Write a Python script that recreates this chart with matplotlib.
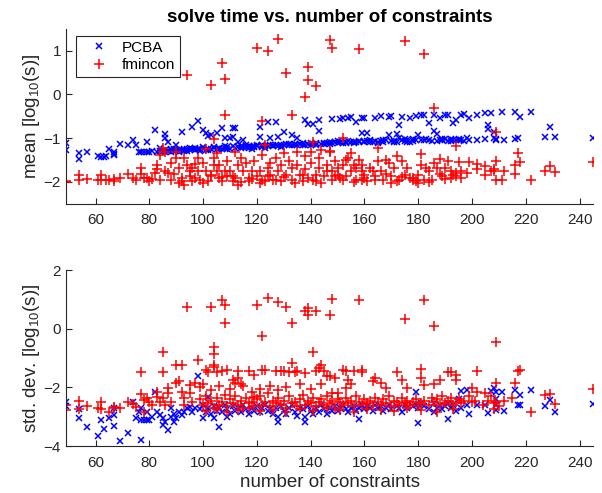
import matplotlib
matplotlib.use("Agg")
import matplotlib.pyplot as plt

plt.rcParams["font.family"] = ["Liberation Sans", "DejaVu Sans"]
plt.rcParams["mathtext.fontset"] = "custom"
plt.rcParams["mathtext.rm"] = "Liberation Sans"
plt.rcParams["mathtext.it"] = "Liberation Sans:italic"

# mean solve time, PCBA
pcba_mean_x = [
    49, 49, 54, 54, 57, 61, 62, 63, 64, 65, 67, 67, 67,
    69, 72, 74, 75, 76, 77, 78, 79, 79, 80, 81, 82, 83, 84, 84,
    85, 86, 86, 86, 87, 87, 88, 88, 89, 89, 90, 90, 91, 92, 92, 93, 94, 95, 96, 96, 97, 98, 98, 99, 100,
    100, 101, 101, 102, 102, 103, 103, 104, 105, 105, 106, 107, 107, 108, 108, 109, 110, 110, 111, 111, 112, 112, 113, 113, 114, 115, 115,
    116, 117, 117, 118, 119, 119, 120, 121, 121, 122, 122, 123, 124, 124, 125, 125, 126, 127, 127, 128, 128, 129, 130, 130,
    131, 132, 133, 133, 134, 135, 135, 136, 137, 138, 138, 139, 139, 140, 141, 141, 142, 143, 143, 144, 145, 146, 147, 148, 148,
    149, 150, 151, 151, 152, 153, 153, 154, 155, 155, 156, 157, 157, 158, 159, 159, 160, 160, 161, 161, 162, 163, 164, 165, 165,
    166, 166, 167, 168, 169, 169, 170, 171, 172, 172, 173, 173, 174, 174, 175, 176, 177, 177, 178, 179, 179, 180, 181, 182, 182,
    183, 184, 185, 186, 186, 187, 188, 188, 189, 190, 190, 191, 192, 192, 193, 194, 194, 195, 196, 196, 197, 198, 199, 199,
    202, 202, 205, 205, 206, 206, 207, 208, 208, 209, 209, 211, 212, 216, 216, 217, 218, 222, 227, 229, 231, 245,
    86, 88, 90, 91, 93, 94, 95, 97, 99, 100, 102, 104, 106, 108, 109, 111, 114, 116, 118, 120, 123, 126, 129, 132, 134, 137, 140, 142, 145, 147,
    150, 152, 154, 156, 158, 160, 162, 164, 167, 170, 171, 175, 176, 178, 181, 184, 187, 189, 191, 193, 195, 197,
]
pcba_mean_y = [
    -1.12, -1.28, -1.34, -1.47, -1.33, -1.40, -1.43, -1.44, -1.42, -1.25, -1.32, -1.37, -1.38,
    -1.14, -1.16, -1.04, -1.16, -1.33, -1.32, -1.33, -1.31, -1.09, -1.32, -1.30, -0.81, -1.31, -1.22, -1.29,
    -1.30, -0.91, -1.00, -1.28, -1.08, -1.30, -1.27, -1.31, -1.29, -1.26, -1.16, -1.30, -1.28, -0.87, -1.27, -1.29, -1.26, -1.28, -0.75, -1.25, -1.27, -0.62, -1.26, -1.24, -0.81,
    -1.25, -0.89, -1.27, -0.95, -1.24, -0.93, -1.26, -1.23, -0.89, -1.25, -1.22, -0.76, -1.24, -1.00, -1.23, -1.21, -1.00, -1.24, -0.76, -0.97, -0.76, -1.22, -1.08, -1.21, -1.23, -1.05, -1.20,
    -1.21, -1.19, -1.22, -1.20, -1.18, -1.21, -1.19, -0.74, -0.97, -1.17, -1.20, -1.18, -0.64, -1.19, -1.00, -1.17, -1.18, -0.64, -1.16, -0.97, -1.18, -1.15, -0.85, -1.17,
    -1.14, -1.16, -0.93, -1.15, -1.13, -1.00, -1.15, -1.14, -1.12, -0.59, -1.15, -0.68, -1.13, -1.12, -0.67, -1.14, -1.12, -0.58, -0.84, -1.13, -1.11, -1.12, -1.10, -0.57, -1.12,
    -1.10, -1.11, -0.57, -1.09, -0.55, -1.12, -1.08, -0.53, -0.52, -1.10, -1.09, -0.64, -1.08, -1.10, -0.53, -0.89, -0.53, -1.07, -0.89, -1.06, -1.08, -1.10, -0.55, -1.08, -1.11,
    -0.49, -1.07, -1.09, -1.05, -0.51, -0.93, -0.49, -1.06, -0.91, -1.08, -0.70, -1.00, -0.52, -1.05, -1.07, -1.04, -0.53, -1.08, -1.06, -0.49, -1.04, -0.93, -0.47, -0.47, -1.05,
    -1.03, -0.65, -1.06, -0.84, -0.47, -0.91, -0.55, -1.04, -1.05, -0.46, -1.03, -0.46, -1.06, -1.02, -0.66, -0.59, -1.04, -1.05, -0.47, -1.04, -0.44, -1.00, -0.55, -1.04,
    -0.47, -1.04, -0.43, -1.02, -0.70, -0.80, -0.43, -0.87, -1.00, -1.01, -1.04, -0.41, -1.04, -0.41, -1.02, -1.00, -0.51, -0.40, -0.97, -0.75, -0.97, -1.00,
    -1.33, -1.24, -1.27, -1.32, -1.24, -1.30, -1.23, -1.22, -1.29, -1.21, -1.28, -1.20, -1.26, -1.19, -1.25, -1.18, -1.19, -1.17, -1.24, -1.16, -1.22, -1.15, -1.20, -1.13, -1.17, -1.16, -1.15, -1.15, -1.14, -1.13,
    -1.07, -1.12, -1.07, -1.11, -1.06, -1.10, -1.05, -1.07, -1.04, -1.07, -1.09, -1.03, -1.08, -1.02, -1.05, -1.04, -1.07, -1.02, -1.06, -1.05, -1.02, -1.06,
]

# mean solve time, fmincon
fmincon_mean_x = [
    49, 49, 54, 54, 57, 61, 62, 62, 64, 65, 67, 67, 69, 72, 74, 75, 77, 77, 78, 79, 80, 81, 82, 83, 84, 84,
    83, 85, 86, 86, 87, 88, 89, 90, 90, 91, 92, 92, 93, 93, 94, 94, 95, 96, 96, 97, 97,
    98, 101, 103, 104, 107, 108, 108, 120, 122, 123, 124, 128, 131, 133, 138, 139, 139, 141, 142, 147, 148, 152, 158, 175, 182, 186, 194, 209,
    98, 99, 100, 101, 102, 103, 104, 104, 105, 105, 106, 106, 107, 108, 109, 109, 110, 111, 112, 112, 113, 113, 114, 115, 116, 117, 117, 118, 119, 120, 121, 122,
    122, 123, 124, 125, 125, 127, 127, 128, 129, 129, 130, 131, 132, 133, 133, 135, 135, 136, 137, 138, 138, 139, 140, 140, 142, 142, 143, 143, 144, 145, 146, 146, 147,
    147, 148, 148, 149, 150, 150, 151, 152, 153, 153, 154, 155, 155, 156, 157, 157, 158, 159, 159, 159, 160, 161, 162, 163, 164, 165, 165, 166, 167, 168, 168, 169,
    170, 171, 172, 172, 173, 174, 175, 176, 177, 178, 179, 180, 180, 181, 181, 182, 183, 184, 185, 186, 187, 188, 188, 189, 190, 191, 192, 192, 193, 194, 195, 196,
    196, 198, 199, 202, 202, 205, 205, 207, 208, 208, 209, 209, 211, 212, 216, 216, 217, 218, 222, 227, 229, 231, 245,
    88, 91, 95, 100, 103, 107, 111, 114, 118, 121, 124, 126, 130, 134, 137, 141, 144, 149, 152, 156, 160, 164, 170, 174, 178, 184, 190, 194,
]
fmincon_mean_y = [
    -1.99, -2.01, -1.85, -1.97, -1.94, -1.95, -1.85, -1.97, -1.97, -1.95, -1.94, -1.99, -1.91, -1.82, -1.91, -1.95, -1.69, -1.82, -1.91, -1.91, -1.99, -1.93, -1.80, -1.72, -1.38, -1.95,
    -1.61, -1.23, -1.31, -1.76, -1.80, -1.57, -1.82, -1.31, -1.46, -1.69, -1.91, -1.99, -2.07, -1.46, 0.44, -1.61, -1.76, -1.99, -1.69, -1.91, -1.60,
    -1.46, -1.25, 0.22, -1.03, 0.72, 0.36, -0.46, 1.06, -0.61, -1.15, 0.99, 1.28, 0.50, -0.46, -0.05, 0.64, 0.34, -1.08, 0.19, 1.24, 1.06, -1.00, 1.03, 1.22, 0.92, -0.32, -1.19, -0.86,
    -1.76, -1.95, -1.57, -1.76, -1.99, -1.88, -1.46, -1.61, -1.34, -1.76, -1.91, -1.61, -1.99, -1.76, -1.53, -1.88, -1.76, -1.99, -1.31, -1.91, -2.07, -1.61, -1.46, -1.76, -1.57, -1.91, -1.99, -1.76, -1.53, -1.88, -1.76, -1.38,
    -1.95, -1.99, -1.69, -1.57, -1.84, -1.46, -1.95, -1.76, -1.61, -1.99, -1.34, -1.84, -1.53, -1.69, -1.95, -1.31, -1.61, -1.84, -1.99, -1.42, -1.72, -1.91, -1.31, -1.57, -1.84, -1.99, -1.46, -1.69, -1.27, -1.88, -1.61, -1.76, -1.31,
    -1.29, -1.76, -1.95, -1.53, -1.69, -1.84, -1.91, -1.61, -1.50, -1.88, -1.46, -1.34, -1.76, -1.61, -1.69, -1.95, -1.50, -1.61, -1.76, -1.95, -1.84, -1.99, -1.69, -1.76, -1.88, -1.23, -1.53, -1.76, -1.95, -1.50, -1.82, -1.57,
    -1.88, -1.69, -1.42, -1.99, -1.95, -1.53, -1.84, -1.69, -1.91, -1.91, -1.99, -1.84, -2.03, -1.37, -1.61, -1.95, -1.69, -1.76, -1.95, -1.57, -1.69, -1.48, -1.82, -1.88, -1.69, -1.53, -1.76, -1.91, -1.84, -1.80, -1.55, -1.76,
    -1.91, -1.80, -1.55, -1.60, -1.70, -1.63, -1.85, -1.76, -1.76, -1.72, -1.53, -1.97, -1.95, -1.76, -1.61, -1.82, -1.34, -1.55, -1.97, -1.76, -1.65, -1.78, -1.55,
    -1.95, -2.02, -1.86, -2.03, -1.84, -1.90, -1.86, -2.00, -1.93, -2.03, -1.87, -1.97, -1.90, -2.02, -1.84, -1.95, -2.03, -1.88, -1.97, -2.01, -1.92, -1.96, -2.02, -1.90, -1.95, -2.00, -1.93, -1.88,
]

# std. dev. of solve time, PCBA
pcba_std_x = [
    49, 49, 54, 54, 57, 61, 62, 63, 65, 67, 67, 67, 69, 72, 74, 75, 76, 77, 77, 77, 78, 79, 79, 80, 81, 82, 83, 84,
    85, 85, 86, 87, 88, 88, 89, 89, 90, 91, 92, 93, 94, 95, 96, 97, 98,
    99, 100, 100, 101, 102, 102, 103, 104, 104, 105, 106, 106, 107, 108, 109, 109, 110, 111, 112, 113, 114, 115, 116, 117, 118, 119, 120,
    121, 122, 123, 124, 125, 126, 127, 128, 128, 129, 130, 131, 132, 133, 134, 135, 136, 137, 138, 138, 139, 140, 141, 142, 143, 144, 145, 146, 147, 148,
    149, 150, 151, 152, 153, 154, 155, 156, 157, 158, 158, 159, 160, 161, 162, 163, 164, 165, 166, 167, 168, 169, 170, 172, 173, 174, 175, 176, 178,
    179, 179, 180, 180, 181, 182, 184, 186, 186, 187, 188, 189, 190, 191, 191, 192, 193, 194, 195, 196, 196, 198, 198, 199,
    202, 205, 206, 207, 208, 209, 209, 209, 209, 211, 212, 216, 217, 218, 218, 222, 227, 229, 231, 245,
]
pcba_std_y = [
    -2.49, -2.63, -2.74, -3.06, -3.35, -3.65, -3.12, -3.42, -3.06, -3.31, -2.94, -2.72, -3.84, -3.57, -2.49, -3.06, -2.83, -3.80, -2.72, -3.12, -3.12, -3.12, -2.83, -3.12, -3.00, -2.15, -2.83, -2.94,
    -3.29, -3.06, -3.17, -3.46, -2.72, -3.00, -3.17, -2.90, -3.06, -2.83, -2.95, -2.85, -2.72, -2.66, -2.83, -2.70, -1.63,
    -2.75, -3.06, -2.60, -2.85, -2.32, -2.70, -2.90, -3.06, -2.65, -2.80, -3.34, -2.70, -2.85, -2.60, -3.00, -2.75, -2.90, -2.65, -2.80, -2.70, -2.85, -2.60, -2.75, -2.90, -2.70, -2.80, -2.65,
    -2.85, -2.70, -2.60, -2.80, -2.75, -2.90, -2.70, -3.00, -3.17, -2.65, -2.80, -2.92, -2.70, -2.60, -2.85, -2.97, -2.70, -2.75, -3.00, -3.17, -2.65, -2.80, -2.92, -2.70, -2.85, -2.60, -2.75, -2.90, -2.70, -2.80,
    -2.65, -2.81, -2.70, -2.60, -2.75, -2.85, -2.70, -2.65, -2.80, -3.08, -2.70, -2.60, -2.75, -2.65, -2.70, -2.81, -2.60, -2.72, -2.65, -2.80, -2.70, -2.60, -2.75, -2.65, -2.70, -2.83, -2.60, -2.72, -2.65,
    -2.15, -2.60, -3.20, -2.70, -2.55, -2.65, -2.75, -2.83, -2.55, -2.70, -2.60, -2.75, -2.65, -3.08, -2.55, -2.70, -2.60, -2.80, -2.40, -2.12, -2.70, -2.09, -2.60, -2.92,
    -2.60, -2.60, -2.89, -2.12, -2.03, -2.17, -2.40, -2.60, -2.77, -2.17, -2.81, -2.09, -2.60, -2.60, -2.26, -2.09, -2.63, -2.43, -2.83, -2.58,
]

# std. dev. of solve time, fmincon
fmincon_std_x = [
    49, 49, 54, 54, 57, 61, 62, 62, 65, 67, 67, 69, 72, 74, 75, 77, 77, 78, 78, 79, 80, 81, 83, 83, 84,
    85, 85, 85, 86, 87, 87, 88, 90, 90, 91, 92, 92, 93, 93, 94, 95, 95, 96, 97, 98,
    103, 104, 104, 104, 107, 108, 108, 120, 122, 124, 128, 131, 133, 133, 138, 139, 139, 141, 142, 147, 148, 158, 175, 182, 186, 209,
    101, 102, 104, 105, 107, 109, 113, 117, 119, 122, 123, 127, 129, 130, 132, 134, 135, 138, 142, 143, 144, 145, 146, 152, 153, 156, 159, 159, 172, 181, 191, 192, 202, 217, 218,
    99, 100, 103, 106, 110, 111, 112, 113, 114, 115, 118, 119, 121, 125, 128, 131, 136, 140, 144, 147, 148, 149, 150, 153, 154, 155,
    163, 164, 166, 168, 174, 176, 181, 182, 186, 188, 194, 194, 200, 202, 209, 216, 245,
    99, 100, 101, 102, 103, 104, 105, 106, 107, 108, 109, 110, 111, 112, 113, 114, 115, 116, 117, 118, 119, 120, 121, 122, 123, 124, 125, 126, 127, 128, 129, 130,
    131, 132, 133, 134, 135, 136, 137, 138, 139, 140, 141, 142, 143, 144, 145, 146, 147, 148, 149, 150, 151, 152, 153, 154, 155, 156, 157, 158, 159, 160, 161, 162, 163, 164, 165,
    166, 167, 168, 169, 170, 171, 172, 173, 174, 175, 176, 177, 178, 179, 180, 181, 182, 184, 185, 186, 187, 188, 189, 190, 191, 192, 193, 194, 195, 196, 197, 199, 200,
    101, 105, 109, 113, 117, 121, 126, 131, 136, 141, 146, 151, 156, 161, 166, 171, 176, 181, 187, 193,
    201, 204, 205, 206, 207, 208, 208, 209, 210, 212, 215, 222, 227, 229, 231,
]
fmincon_std_y = [
    -2.77, -2.60, -2.47, -2.74, -2.63, -2.69, -2.51, -2.74, -2.83, -2.69, -2.66, -2.72, -2.49, -2.58, -2.66, -1.46, -2.24, -2.43, -2.83, -2.35, -2.51, -2.60, -2.17, -2.32, -2.49,
    -0.78, -1.48, -2.37, -2.60, -2.20, -2.03, -2.49, -1.23, -1.86, -1.80, -1.23, -2.15, -2.37, -2.60, 0.73, -1.92, -2.20, -2.49, -1.86, -1.06,
    0.73, -0.64, -0.87, -1.23, 0.99, 0.80, 0.19, 0.82, -0.26, 1.05, 0.91, 0.73, 0.19, -1.18, 0.59, 0.71, 0.48, -0.78, 0.59, 0.48, 1.02, 0.99, 0.33, 0.99, 0.08, -0.46,
    -1.40, -1.46, -1.29, -1.46, -1.44, -1.40, -1.44, -1.44, -1.58, -1.40, -1.40, -1.44, -1.44, -1.44, -1.46, -1.46, -1.44, -1.52, -1.44, -1.35, -1.23, -1.44, -1.63, -1.40, -1.44, -1.44, -1.40, -1.46, -1.46, -1.37, -1.46, -1.46, -1.44, -1.44, -1.40,
    -2.00, -1.90, -2.10, -1.95, -2.05, -1.75, -1.86, -1.69, -1.90, -1.97, -2.15, -2.32, -2.05, -1.95, -2.10, -2.00, -1.90, -2.05, -1.90, -1.63, -2.20, -1.69, -2.20, -2.03, -1.75, -1.89,
    -1.80, -1.69, -1.86, -2.03, -1.75, -2.03, -1.69, -1.92, -1.89, -1.75, -1.58, -1.75, -2.03, -2.15, -1.86, -1.86, -2.05,
    -2.40, -2.60, -2.30, -2.55, -2.45, -2.70, -2.35, -2.60, -2.50, -2.25, -2.65, -2.40, -2.55, -2.30, -2.60, -2.45, -2.70, -2.35, -2.55, -2.50, -2.65, -2.40, -2.30, -2.60, -2.50, -2.20, -2.65, -2.45, -2.55, -2.35, -2.60, -2.45,
    -2.70, -2.30, -2.55, -2.50, -2.65, -2.40, -2.25, -2.60, -2.45, -2.55, -2.35, -2.65, -2.50, -2.40, -2.60, -2.30, -2.55, -2.45, -2.70, -2.40, -2.50, -2.60, -2.35, -2.55, -2.45, -2.65, -2.30, -2.50, -2.60, -2.40, -2.55, -2.45, -2.65, -2.35, -2.50,
    -2.60, -2.40, -2.55, -2.30, -2.65, -2.45, -2.50, -2.60, -2.35, -2.55, -2.45, -2.60, -2.50, -2.40, -2.65, -2.55, -2.45, -2.60, -2.35, -2.50, -2.40, -2.60, -2.30, -2.55, -2.45, -2.35, -2.60, -2.50, -2.40, -2.55, -2.45, -2.30, -2.50,
    -2.80, -2.75, -2.85, -2.78, -2.72, -2.82, -2.76, -2.85, -2.74, -2.80, -2.70, -2.78, -2.83, -2.73, -2.76, -2.81, -2.72, -2.78, -2.84, -2.75,
    -2.45, -2.60, -2.20, -2.45, -2.30, -2.55, -2.75, -2.50, -2.65, -2.47, -2.35, -2.85, -2.26, -2.24, -2.58,
]

x_ticks = [60, 80, 100, 120, 140, 160, 180, 200, 220, 240]
mean_ticks = [-2, -1, 0, 1]
std_ticks = [-4, -2, 0, 2]

axis_color = "#262626"

fig = plt.figure(figsize=(6.02, 4.93), dpi=100)
ax_top = fig.add_axes([0.1096, 0.5872, 0.8755, 0.354])
ax_bot = fig.add_axes([0.1096, 0.0953, 0.8755, 0.357])


def style_axes(ax, yticks, ylim):
    ax.set_xlim(49, 245)
    ax.set_ylim(*ylim)
    ax.set_xticks(x_ticks)
    ax.set_yticks(yticks)
    for side in ("top", "right"):
        ax.spines[side].set_visible(False)
    for side in ("left", "bottom"):
        ax.spines[side].set_color(axis_color)
        ax.spines[side].set_linewidth(0.8)
    ax.tick_params(direction="in", length=4, width=0.8, colors=axis_color,
                   labelsize=11, labelcolor=axis_color)
    ax.tick_params(axis="x", pad=7)


ax_top.plot(pcba_mean_x, pcba_mean_y, linestyle="none", marker="x",
            color="#0000ff", markersize=4.8, markeredgewidth=1.1, label="PCBA")
ax_top.plot(fmincon_mean_x, fmincon_mean_y, linestyle="none", marker="+",
            color="#ff0000", markersize=6.5, markeredgewidth=1.1, label="fmincon")
style_axes(ax_top, mean_ticks, (-2.5, 1.5))
ax_top.set_ylabel(r"mean [log$_{10}$(s)]", fontsize=13.5, color=axis_color, labelpad=1)
ax_top.set_title("solve time vs. number of constraints", fontsize=13.5,
                 fontweight="bold", pad=5)
leg = ax_top.legend(loc="upper left", fontsize=11, fancybox=False, framealpha=1,
                    edgecolor="#262626", handlelength=2.4, handletextpad=0.3,
                    borderpad=0.3, labelspacing=0.25, borderaxespad=0,
                    bbox_to_anchor=(0.019, 0.96))
leg.get_frame().set_linewidth(0.8)

ax_bot.plot(pcba_std_x, pcba_std_y, linestyle="none", marker="x",
            color="#0000ff", markersize=4.8, markeredgewidth=1.1)
ax_bot.plot(fmincon_std_x, fmincon_std_y, linestyle="none", marker="+",
            color="#ff0000", markersize=6.5, markeredgewidth=1.1)
style_axes(ax_bot, std_ticks, (-4, 2))
ax_bot.set_ylabel(r"std. dev. [log$_{10}$(s)]", fontsize=13.5, color=axis_color, labelpad=1)
ax_bot.set_xlabel("number of constraints", fontsize=13.5, color=axis_color, labelpad=3)

fig.savefig("out.png", dpi=100)
